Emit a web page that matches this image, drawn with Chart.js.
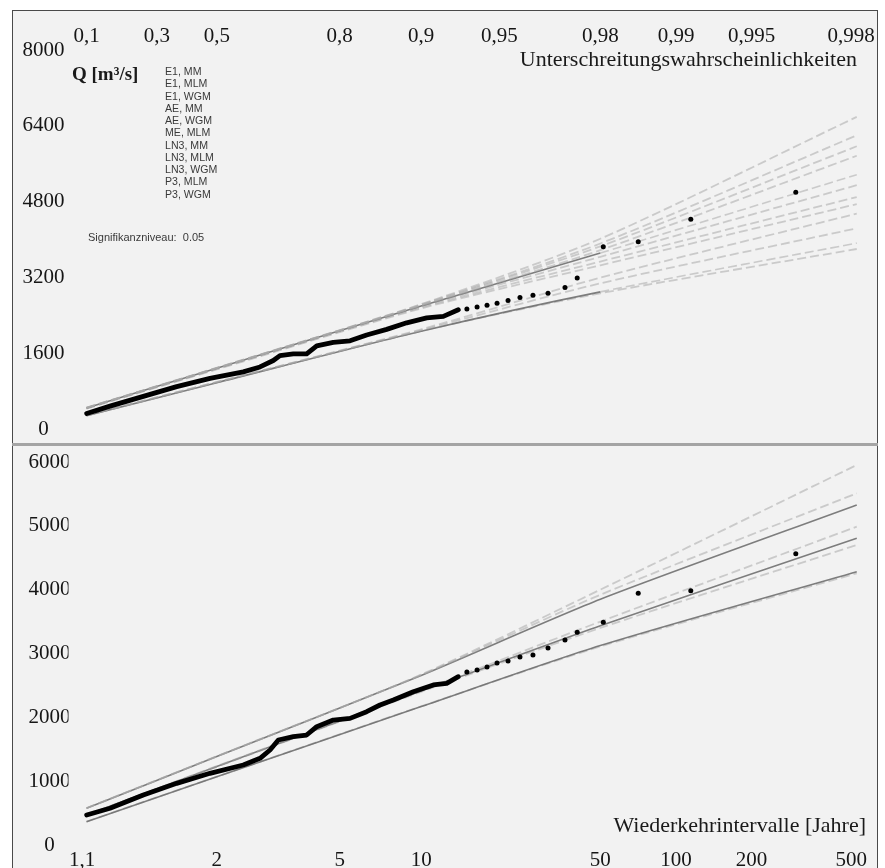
<!DOCTYPE html>
<html><head><meta charset="utf-8">
<script src="https://cdn.jsdelivr.net/npm/chart.js@4.4.0/dist/chart.umd.min.js"></script>
<style>
html,body{margin:0;padding:0;background:#fff;width:885px;height:868px;overflow:hidden;position:relative;}
#frame{position:absolute;left:12px;top:10px;width:866px;height:900px;background:#f2f2f2;border:1px solid #4a4a4a;box-sizing:border-box;}
#divider{position:absolute;left:12px;top:443px;width:866px;height:3px;background:#a4a4a4;z-index:3;}
canvas{position:absolute;left:0;}
#cTop{top:0;}
#cBot{top:446px;}
.t{position:absolute;white-space:nowrap;z-index:4;color:#1a1a1a;}
.serif{font-family:"Liberation Serif","Times New Roman",serif;}
.sans{font-family:"Liberation Sans",Arial,sans-serif;color:#3a3a3a;}
</style>
</head><body>
<div id="frame"></div>
<canvas id="cTop" width="885" height="446"></canvas>
<canvas id="cBot" width="885" height="422"></canvas>
<div id="divider"></div>
<div class="t serif" style="left:72px;top:63px;font-size:19px;font-weight:bold;">Q [m³/s]</div>
<div class="t serif" style="right:28px;top:46px;font-size:22px;">Unterschreitungswahrscheinlichkeiten</div>
<div class="t serif" style="right:19px;top:812px;font-size:22px;">Wiederkehrintervalle [Jahre]</div>
<div class="t sans" id="legend" style="left:165px;top:65px;font-size:10.6px;line-height:12.25px;"></div>
<div class="t sans" style="left:88px;top:231px;font-size:11px;">Signifikanzniveau:&nbsp; 0.05</div>
<script>
// ---------- axis ticks ----------
const probTicks  = [0.1, 0.3, 0.5, 0.8, 0.9, 0.95, 0.98, 0.99, 0.995, 0.998];
const probLabels = ['0,1','0,3','0,5','0,8','0,9','0,95','0,98','0,99','0,995','0,998'];
const returnTicks  = [1.1, 2, 5, 10, 50, 100, 200, 500];
const returnLabels = ['1,1','2','5','10','50','100','200','500'];
const topYTicks = [0, 1600, 3200, 4800, 6400, 8000];
const botYTicks = [0, 1000, 2000, 3000, 4000, 5000, 6000];
const legendNames = ['E1, MM','E1, MLM','E1, WGM','AE, MM','AE, WGM','ME, MLM','LN3, MM','LN3, MLM','LN3, WGM','P3, MLM','P3, WGM'];

// ---------- observations (non-exceedance probability, discharge) ----------
const topObsF = [0.1004,0.1566,0.2556,0.3668,0.4782,0.5811,0.628,0.6626,0.679,0.7101,0.7388,0.7589,0.7891,0.8163,0.8402,0.8652,0.8866,0.9047,0.9177,0.9279];
const topObsQ = [337,490,697,903,1075,1213,1317,1453,1557,1592,1592,1763,1834,1867,1991,2109,2247,2350,2383,2522];
const topTailF = [0.9332,0.939,0.9442,0.949,0.9538,0.9585,0.9631,0.9678,0.9724,0.9753,0.98053,0.98585,0.99126,0.99667];
const topTailQ = [2540,2580,2620,2660,2720,2780,2830,2870,2990,3190,3851,3955,4430,5003];

const botObsF = [0.1004,0.1566,0.2556,0.3668,0.4782,0.5811,0.628,0.6542,0.675,0.7101,0.7388,0.7589,0.7891,0.8163,0.8402,0.8573,0.8727,0.8929,0.9101,0.9201,0.9279];
const botObsQ = [470,575,783,966,1123,1253,1358,1488,1645,1697,1723,1853,1958,1984,2089,2193,2272,2402,2507,2533,2637];
const botTailF = [0.9332,0.939,0.9442,0.949,0.9538,0.9585,0.9631,0.9678,0.9724,0.9753,0.98053,0.98585,0.99126,0.99667];
const botTailQ = [2710,2742,2789,2851,2883,2945,2977,3086,3212,3332,3489,3943,3984,4564];

// ---------- fitted distributions, read at these probabilities ----------
const fitF = [0.1, 0.5, 0.9, 0.98, 0.9981];
const topFit1  = [460,1300,2640,4020,6590];
const topFit2  = [458,1295,2630,3920,6200];
const topFit3  = [456,1293,2620,3860,5970];
const topFit4  = [454,1291,2610,3780,5770];
const topFit5  = [452,1290,2600,3720,5370];
const topFit6  = [450,1285,2590,3640,5150];
const topFit7  = [445,1275,2570,3540,4900];
const topFit8  = [440,1265,2550,3460,4750];
const topFit9  = [300,1000,2110,3200,4550];
const topFit10 = [295,995,2090,3080,4240];
const topFit11 = [290,985,2070,2900,3928];
const topFit12 = [292,990,2075,2870,3804];
const topDark = [5, 11];

const botFit1 = [578,1390,2670,4000,5953];
const botFit2 = [576,1387,2662,3920,5510];
const botFit3 = [575,1385,2656,3849,5326];
const botFit4 = [472,1235,2420,3500,4987];
const botFit5 = [470,1230,2412,3436,4805];
const botFit6 = [468,1225,2400,3400,4700];
const botFit7 = [365,1068,2168,3124,4282];
const botFit8 = [367,1070,2172,3110,4256];
const botDark = [3, 5, 7];

document.getElementById('legend').innerHTML = legendNames.join('<br>');

const gumbel = F => -Math.log(-Math.log(F));
const toPts = (F, Q) => F.map((f, i) => ({x: gumbel(f), y: Q[i]}));
const tickFont = {family: '"Liberation Serif","Times New Roman",serif', size: 21};
const txtColor = '#161616';
const DARK = 'rgba(105,105,105,0.85)';
const FAINT = 'rgba(170,170,170,0.55)';

function buildDatasets(obsF, obsQ, tailF, tailQ, fits, dark, fadeAfter) {
  const ds = [
    {data: toPts(tailF, tailQ), showLine: false, pointRadius: 2.5, pointBackgroundColor: '#000', pointBorderWidth: 0},
    {data: toPts(obsF, obsQ), showLine: true, borderColor: '#000', borderWidth: 4.8, pointRadius: 0, tension: 0, borderJoinStyle: 'round', borderCapStyle: 'round'}
  ];
  fits.forEach((q, i) => {
    const isDark = dark.includes(i + 1);
    const d = {
      data: toPts(fitF, q), showLine: true, pointRadius: 0, tension: 0.25,
      borderColor: isDark ? DARK : FAINT,
      borderWidth: isDark ? 1.6 : 1.8,
      borderDash: isDark ? [] : [9, 4]
    };
    if (isDark && fadeAfter !== null) {
      d.segment = {
        borderColor: c => c.p0.parsed.x >= fadeAfter - 1e-9 ? FAINT : DARK,
        borderDash: c => c.p0.parsed.x >= fadeAfter - 1e-9 ? [9, 4] : []
      };
    }
    ds.push(d);
  });
  return ds;
}

function makeChart(id, cfg) {
  return new Chart(document.getElementById(id), {
    type: 'line',
    data: {datasets: cfg.datasets},
    options: {
      responsive: false, maintainAspectRatio: false, animation: false, events: [],
      layout: {padding: cfg.padding},
      plugins: {legend: {display: false}, tooltip: {enabled: false}},
      scales: {
        x: {
          type: 'linear', position: cfg.xPos, min: -1, max: 6.4,
          afterBuildTicks: s => { s.ticks = cfg.xTicks.map(v => ({value: v})); },
          afterFit: s => { s.height = cfg.xHeight; },
          ticks: {autoSkip: false, maxRotation: 0, minRotation: 0, font: tickFont, color: txtColor,
                  padding: cfg.xPad, callback: (v, i) => cfg.xLabels[i]},
          grid: {display: false, drawTicks: false}, border: {display: false}
        },
        y: {
          type: 'linear', min: cfg.yMin, max: cfg.yMax,
          afterBuildTicks: s => { s.ticks = cfg.yTicks.map(v => ({value: v})); },
          afterFit: s => { s.width = 68.5; },
          ticks: {font: tickFont, color: txtColor, crossAlign: 'center', padding: cfg.yPad,
                  callback: v => String(v)},
          grid: {display: false, drawTicks: false}, border: {display: false}
        }
      }
    }
  });
}

makeChart('cTop', {
  datasets: buildDatasets(topObsF, topObsQ, topTailF, topTailQ,
    [topFit1,topFit2,topFit3,topFit4,topFit5,topFit6,topFit7,topFit8,topFit9,topFit10,topFit11,topFit12], topDark, gumbel(0.98)),
  padding: {left: 0, right: 13.6, top: 10, bottom: 9},
  xPos: 'top', xHeight: 40, xPad: 1.4,
  xTicks: probTicks.map(gumbel), xLabels: probLabels,
  yMin: 0, yMax: 8000, yTicks: topYTicks, yPad: 4
});

makeChart('cBot', {
  datasets: buildDatasets(botObsF, botObsQ, botTailF, botTailQ,
    [botFit1,botFit2,botFit3,botFit4,botFit5,botFit6,botFit7,botFit8], botDark, null),
  padding: {left: 0, right: 13.6, top: 16, bottom: 0},
  xPos: 'bottom', xHeight: 23, xPad: 2.4,
  xTicks: returnTicks.map(t => gumbel(1 - 1 / t)), xLabels: returnLabels,
  yMin: 0, yMax: 6000, yTicks: botYTicks, yPad: -2
});
</script>
</body></html>
